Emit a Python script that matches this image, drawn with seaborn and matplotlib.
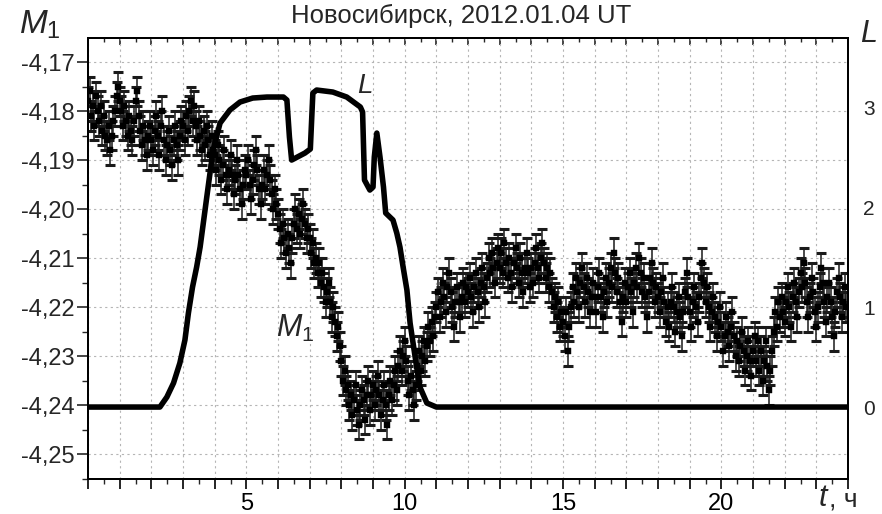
import numpy as np
import pandas as pd
import matplotlib
matplotlib.use("Agg")
import matplotlib.pyplot as plt
from matplotlib.ticker import MultipleLocator, FuncFormatter
import seaborn as sns

# M1 readings, one every 0.05 h (20 per hour)
m1_values = [
    -4.178, -4.176, -4.181, -4.179, -4.183, -4.177, -4.180, -4.182, -4.179, -4.184,
    -4.181, -4.185, -4.186, -4.183, -4.188, -4.185, -4.182, -4.180, -4.177, -4.175,
    -4.178, -4.180, -4.183, -4.179, -4.182, -4.185, -4.181, -4.184, -4.186, -4.182,
    -4.178, -4.176, -4.181, -4.184, -4.187, -4.183, -4.186, -4.189, -4.185, -4.183,
    -4.186, -4.188, -4.184, -4.181, -4.185, -4.189, -4.183, -4.180, -4.186, -4.190,
    -4.187, -4.184, -4.188, -4.191, -4.186, -4.183, -4.187, -4.190, -4.185, -4.182,
    -4.183, -4.186, -4.181, -4.184, -4.180, -4.178, -4.182, -4.179, -4.183, -4.186,
    -4.182, -4.185, -4.188, -4.184, -4.187, -4.183, -4.186, -4.189, -4.185, -4.188,
    -4.189, -4.192, -4.187, -4.190, -4.194, -4.191, -4.188, -4.193, -4.196, -4.192,
    -4.189, -4.193, -4.197, -4.194, -4.190, -4.193, -4.196, -4.199, -4.195, -4.192,
    -4.193, -4.190, -4.195, -4.198, -4.194, -4.191, -4.188, -4.192, -4.196, -4.199,
    -4.195, -4.192, -4.196, -4.193, -4.190, -4.194, -4.197, -4.200, -4.196, -4.199,
    -4.201, -4.204, -4.207, -4.203, -4.206, -4.209, -4.205, -4.208, -4.211, -4.206,
    -4.203, -4.200, -4.204, -4.201, -4.205, -4.202, -4.199, -4.203, -4.206, -4.204,
    -4.206, -4.209, -4.207, -4.211, -4.210, -4.213, -4.211, -4.215, -4.213, -4.216,
    -4.219, -4.217, -4.215, -4.219, -4.222, -4.220, -4.223, -4.226, -4.224, -4.228,
    -4.231, -4.235, -4.233, -4.237, -4.236, -4.240, -4.238, -4.242, -4.239, -4.236,
    -4.241, -4.244, -4.240, -4.237, -4.239, -4.243, -4.238, -4.235, -4.241, -4.238,
    -4.236, -4.240, -4.237, -4.234, -4.238, -4.242, -4.239, -4.236, -4.240, -4.244,
    -4.238, -4.235, -4.239, -4.236, -4.233, -4.237, -4.232, -4.229, -4.233, -4.230,
    -4.227, -4.231, -4.235, -4.238, -4.234, -4.237, -4.240, -4.236, -4.232, -4.229,
    -4.233, -4.230, -4.227, -4.231, -4.228, -4.224, -4.227, -4.223, -4.226, -4.222,
    -4.220, -4.217, -4.222, -4.219, -4.215, -4.218, -4.221, -4.216, -4.213, -4.217,
    -4.220, -4.224, -4.219, -4.216, -4.219, -4.222, -4.218, -4.215, -4.219, -4.216,
    -4.217, -4.214, -4.218, -4.221, -4.216, -4.213, -4.217, -4.220, -4.215, -4.212,
    -4.216, -4.219, -4.214, -4.210, -4.213, -4.209, -4.212, -4.215, -4.211, -4.208,
    -4.212, -4.209, -4.213, -4.207, -4.211, -4.214, -4.210, -4.213, -4.216, -4.211,
    -4.208, -4.212, -4.215, -4.210, -4.213, -4.217, -4.212, -4.209, -4.213, -4.216,
    -4.212, -4.215, -4.211, -4.208, -4.212, -4.214, -4.210, -4.207, -4.211, -4.214,
    -4.212, -4.216, -4.213, -4.217, -4.220, -4.218, -4.222, -4.219, -4.224, -4.221,
    -4.223, -4.226, -4.221, -4.229, -4.224, -4.220, -4.216, -4.219, -4.214, -4.217,
    -4.220, -4.215, -4.212, -4.216, -4.219, -4.214, -4.217, -4.221, -4.218, -4.215,
    -4.218, -4.221, -4.216, -4.213, -4.218, -4.222, -4.217, -4.214, -4.219, -4.215,
    -4.212, -4.216, -4.209, -4.213, -4.217, -4.214, -4.219, -4.223, -4.218, -4.215,
    -4.219, -4.216, -4.213, -4.217, -4.221, -4.215, -4.212, -4.216, -4.210, -4.213,
    -4.217, -4.214, -4.218, -4.222, -4.217, -4.214, -4.211, -4.215, -4.219, -4.216,
    -4.218, -4.221, -4.217, -4.214, -4.219, -4.223, -4.220, -4.224, -4.219, -4.216,
    -4.220, -4.225, -4.221, -4.218, -4.222, -4.226, -4.221, -4.217, -4.213, -4.218,
    -4.221, -4.224, -4.219, -4.216, -4.220, -4.223, -4.218, -4.214, -4.211, -4.215,
    -4.219, -4.216, -4.220, -4.224, -4.221, -4.218, -4.222, -4.226, -4.223, -4.220,
    -4.224, -4.229, -4.226, -4.222, -4.225, -4.228, -4.224, -4.221, -4.226, -4.230,
    -4.227, -4.231, -4.228, -4.225, -4.229, -4.233, -4.230, -4.227, -4.231, -4.234,
    -4.229, -4.226, -4.231, -4.227, -4.233, -4.229, -4.235, -4.231, -4.227, -4.232,
    -4.237, -4.233, -4.229, -4.225, -4.221, -4.224, -4.219, -4.222, -4.218, -4.221,
    -4.223, -4.219, -4.216, -4.220, -4.224, -4.218, -4.215, -4.219, -4.222, -4.217,
    -4.213, -4.216, -4.211, -4.215, -4.219, -4.222, -4.218, -4.214, -4.217, -4.221,
    -4.224, -4.220, -4.216, -4.212, -4.215, -4.219, -4.223, -4.218, -4.215, -4.219,
    -4.222, -4.226, -4.221, -4.217, -4.214, -4.218, -4.222, -4.219, -4.216, -4.220,
]
m1_step = 0.05      # hours between M1 readings
m1_err = 0.003      # typical error bar half-height

# L curve, read at its corners
l_t = [0.0, 2.27, 2.49, 2.7, 2.9, 3.06, 3.17, 3.3, 3.43, 3.54, 3.75, 3.95,
       4.17, 4.48, 4.8, 5.2, 5.65, 6.17, 6.28, 6.36, 6.43, 6.85, 7.02, 7.1,
       7.22, 7.73, 8.17, 8.6, 8.67, 8.73, 8.9, 9.0, 9.04, 9.12, 9.22, 9.33,
       9.4, 9.63, 9.75, 9.85, 9.95, 10.07, 10.17, 10.33, 10.48, 10.7, 11.0, 24.0]
l_values = [0.0, 0.0, 0.1, 0.24, 0.44, 0.67, 0.94, 1.2, 1.4, 1.6, 2.1, 2.57,
            2.84, 2.97, 3.05, 3.09, 3.1, 3.1, 3.07, 2.7, 2.47, 2.54, 2.58, 3.14,
            3.17, 3.15, 3.1, 3.0, 2.95, 2.27, 2.17, 2.2, 2.5, 2.74, 2.5, 2.2,
            1.94, 1.87, 1.74, 1.6, 1.4, 1.17, 0.84, 0.5, 0.2, 0.04, 0.0, 0.0]

m1_ticks = [-4.17, -4.18, -4.19, -4.20, -4.21, -4.22, -4.23, -4.24, -4.25]
l_ticks = [0, 1, 2, 3]
t_labels = [5, 10, 15, 20]

sns.set_theme(style="white")
plt.rcParams['font.family'] = ['Liberation Sans', 'DejaVu Sans']
plt.rcParams['mathtext.fontset'] = 'custom'
plt.rcParams['mathtext.it'] = 'Liberation Sans:italic'
plt.rcParams['mathtext.rm'] = 'Liberation Sans'
plt.rcParams['axes.unicode_minus'] = False

m1 = pd.DataFrame({"t": np.arange(len(m1_values)) * m1_step, "M1": m1_values})
lcurve = pd.DataFrame({"t": l_t, "L": l_values})

fig = plt.figure(figsize=(8.82, 5.14), dpi=100)
ax = fig.add_axes([0.0998, 0.068, 0.8617, 0.858])

# M1 with error bars
ax.errorbar(m1["t"], m1["M1"], yerr=m1_err, fmt="none", ecolor="#1a1a1a",
            elinewidth=1.1, capsize=3.6, capthick=2.2, zorder=2)
sns.scatterplot(data=m1, x="t", y="M1", ax=ax, marker="s", s=16,
                color="black", edgecolor="black", linewidth=0.3, zorder=3)

ax.set_xlim(0, 24)
ax.set_ylim(-4.2551, -4.1651)
ax.set_xlabel("")
ax.set_ylabel("")

ax.xaxis.set_major_locator(MultipleLocator(1))
ax.xaxis.set_minor_locator(MultipleLocator(0.5))
ax.xaxis.set_major_formatter(FuncFormatter(
    lambda v, p: f"{int(round(v))}" if int(round(v)) in t_labels else ""))
ax.set_yticks(m1_ticks)
ax.yaxis.set_minor_locator(MultipleLocator(0.005))
ax.yaxis.set_major_formatter(FuncFormatter(lambda v, p: f"{v:.2f}".replace(".", ",")))

ax.tick_params(axis="x", which="major", direction="out", length=7, width=1.2,
               labelsize=17, pad=3, colors="black", bottom=True)
ax.tick_params(axis="x", which="minor", direction="out", length=3.5, width=1.0,
               bottom=True)
ax.tick_params(axis="y", which="major", direction="out", length=8, width=1.2,
               labelsize=17, pad=1.5, left=True)
ax.tick_params(axis="y", which="minor", direction="out", length=4.5, width=1.0,
               left=True)

ax.grid(True, which="major", color="#b5b5b5", linestyle=(0, (2, 3)), linewidth=0.8)
for s in ax.spines.values():
    s.set_color("black")
    s.set_linewidth(1.4)

# inward ticks along the top
top = ax.secondary_xaxis("top")
top.xaxis.set_major_locator(MultipleLocator(1))
top.xaxis.set_minor_locator(MultipleLocator(0.5))
top.tick_params(axis="x", which="major", direction="in", length=5, width=1.2,
                labeltop=False)
top.tick_params(axis="x", which="minor", direction="in", length=3, width=1.0)
top.spines["top"].set_linewidth(1.4)

# L on the right axis
ax2 = ax.twinx()
sns.lineplot(data=lcurve, x="t", y="L", ax=ax2, color="black", linewidth=4.0,
             sort=False, zorder=4)
ax2.set_ylim(-0.72, 3.69)
ax2.set_yticks(l_ticks)
ax2.set_ylabel("")
ax2.tick_params(axis="y", length=0, labelsize=15, pad=11)
ax2.grid(False)
for s in ax2.spines.values():
    s.set_color("black")
    s.set_linewidth(1.4)

fig.text(0.523, 0.955, "Новосибирск, 2012.01.04 UT", ha="center", va="baseline",
         fontsize=18.5)
fig.text(0.022, 0.935, r"$M_1$", fontsize=24, ha="left", va="baseline")
fig.text(0.975, 0.918, r"$L$", fontsize=22, ha="left", va="baseline")
fig.text(0.928, 0.015, r"$t$", fontsize=22, ha="left", va="baseline")
fig.text(0.940, 0.015, ", ч", fontsize=19, ha="left", va="baseline")

ax2.text(8.5, 3.14, r"$L$", fontsize=20, ha="left", va="baseline")
ax.text(5.95, -4.2261, r"$M_1$", fontsize=22, ha="left", va="baseline")

fig.savefig("out.png", dpi=100)
